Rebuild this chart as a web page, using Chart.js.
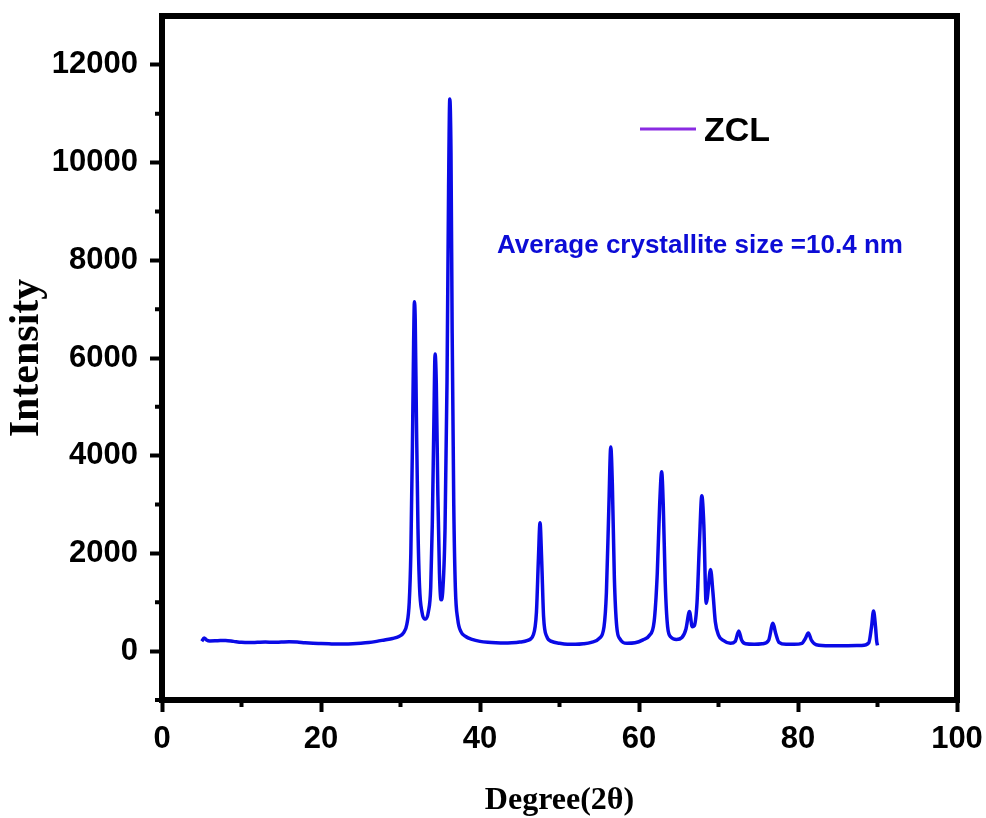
<!DOCTYPE html>
<html>
<head>
<meta charset="utf-8">
<script src="https://cdn.jsdelivr.net/npm/chart.js@4"></script>
<style>
  html, body { margin: 0; padding: 0; background: #fff; }
  #wrap { width: 986px; height: 818px; }
</style>
</head>
<body>
<div id="wrap"><canvas id="xrdChart"></canvas></div>
<script>
// XRD pattern of ZCL
const degrees = [
  5.0, 5.3, 5.6, 6, 7, 8, 9, 10, 11, 12, 13, 14, 15, 16, 17, 18, 19, 20, 21, 22, 23, 24, 25, 26, 27, 28, 29,
  29.8, 30.4, 30.8, 31.1, 31.3, 31.5, 31.65, 31.75, 31.85, 32.0, 32.2, 32.4, 32.7, 33.0, 33.2, 33.5, 33.8,
  34.0, 34.2, 34.35, 34.5, 34.7, 34.9, 35.1, 35.3, 35.6, 35.85, 36.05, 36.2, 36.35, 36.5, 36.7, 36.9,
  37.2, 37.6, 38.2, 39, 40, 41, 42, 43, 44, 45, 46, 46.7, 47.1, 47.35, 47.55, 47.75, 48.0, 48.4, 49,
  50, 51, 52, 53, 54, 55, 55.6, 55.9, 56.2, 56.45, 56.65, 56.9, 57.2, 57.6, 58.5, 59.5, 60.5, 61.3,
  61.9, 62.3, 62.6, 62.85, 63.05, 63.3, 63.6, 64, 64.7, 65.4, 65.9, 66.35, 66.7, 66.95, 67.3, 67.6,
  67.9, 68.15, 68.45, 68.6, 69.0, 69.3, 69.6, 70.0, 70.6, 71.5, 72.1, 72.55, 72.9, 73.4, 74.5, 75.5,
  76.3, 76.85, 77.2, 77.6, 78.5, 79.5, 80.5, 80.9, 81.3, 81.7, 82.3, 84, 86, 88, 88.9, 89.25, 89.5,
  89.75, 89.9, 90.0
];
const intensity = [
  200, 270, 230, 210, 215, 220, 200, 180, 175, 180, 185, 180, 185, 190, 185, 170, 160, 155, 150, 145, 145, 150, 160, 175, 200, 230, 260,
  300, 380, 550, 1000, 2000, 4200, 6300, 7150, 6800, 4800, 2500, 1300, 800, 660, 660, 800, 1300,
  2600, 4700, 6080, 5500, 3200, 1600, 1050, 1200, 2500, 5500, 9500, 11300, 10200, 6500, 3000, 1300,
  650, 400, 300, 240, 200, 180, 170, 165, 170, 185, 220, 330, 800, 1900, 2630, 1900, 700, 300, 200,
  160, 140, 140, 150, 180, 260, 500, 1200, 2900, 4180, 3400, 1500, 500, 250, 160, 170, 230, 320,
  600, 1600, 3000, 3670, 3000, 1400, 500, 290, 240, 280, 450, 810, 500, 520, 1000, 2200,
  3180, 2600, 980, 1100, 1670, 1200, 600, 330, 220, 160, 200, 410, 230, 150, 140, 150,
  220, 570, 360, 180, 140, 140, 160, 250, 370, 220, 130, 110, 110, 115, 170, 500, 820,
  500, 200, 120
];

const yMajor = [0, 2000, 4000, 6000, 8000, 10000, 12000];
const yMinor = [-1000, 1000, 3000, 5000, 7000, 9000, 11000];
const xMinor = [10, 30, 50, 70, 90];
const note = 'Average crystallite size =10.4 nm';

// frame, minor ticks, legend and note
const extras = {
  id: 'extras',
  afterDraw(chart) {
    const ctx = chart.ctx;
    const a = chart.chartArea;
    const xs = chart.scales.x, ys = chart.scales.y;
    ctx.save();
    ctx.strokeStyle = '#000';
    ctx.lineWidth = 6;
    ctx.strokeRect(a.left, a.top, a.right - a.left, a.bottom - a.top);

    ctx.lineWidth = 4;
    ctx.beginPath();
    yMinor.forEach(v => {
      const y = ys.getPixelForValue(v);
      ctx.moveTo(a.left, y); ctx.lineTo(a.left - 7, y);
    });
    xMinor.forEach(v => {
      const x = xs.getPixelForValue(v);
      ctx.moveTo(x, a.bottom); ctx.lineTo(x, a.bottom + 7);
    });
    ctx.stroke();

    // legend
    ctx.strokeStyle = '#8a2be2';
    ctx.lineWidth = 3;
    ctx.beginPath();
    ctx.moveTo(640, 129); ctx.lineTo(696, 129);
    ctx.stroke();
    ctx.fillStyle = '#000';
    ctx.font = 'bold 34px "Liberation Sans", Arial, sans-serif';
    ctx.textBaseline = 'alphabetic';
    ctx.fillText(chart.data.datasets[0].label, 704, 141);

    ctx.fillStyle = '#0c0cd6';
    ctx.font = 'bold 26px "Liberation Sans", Arial, sans-serif';
    ctx.fillText(note, 497, 253);
    ctx.restore();
  }
};

new Chart(document.getElementById('xrdChart'), {
  type: 'line',
  data: {
    datasets: [{
      label: 'ZCL',
      data: degrees.map((d, i) => ({ x: d, y: intensity[i] })),
      borderColor: '#0a0ae6',
      borderWidth: 3.5,
      pointRadius: 0,
      cubicInterpolationMode: 'monotone',
      fill: false
    }]
  },
  plugins: [extras],
  options: {
    responsive: true,
    maintainAspectRatio: false,
    animation: false,
    layout: { padding: { top: 16, right: 29, left: 0, bottom: 0 } },
    plugins: { legend: { display: false }, tooltip: { enabled: false } },
    scales: {
      x: {
        type: 'linear',
        min: 0, max: 100,
        ticks: {
          stepSize: 20, color: '#000', padding: 9,
          callback: v => String(v),
          font: { family: '"Liberation Sans", Arial, sans-serif', size: 31, weight: 'bold' }
        },
        grid: { drawOnChartArea: false, drawTicks: true, tickLength: 12, tickWidth: 4, tickColor: '#000' },
        border: { display: false },
        title: {
          display: true, text: 'Degree(2θ)', color: '#000', padding: { top: 0, bottom: -2 },
          font: { family: '"Liberation Serif", "Times New Roman", serif', size: 32, weight: 'bold' }
        },
        afterFit(scale) {
          scale.height = 118;
          scale.paddingLeft = 0; scale.paddingRight = 0;
        }
      },
      y: {
        min: -1000, max: 13000,
        afterBuildTicks(scale) { scale.ticks = yMajor.map(v => ({ value: v })); },
        ticks: {
          color: '#000', padding: 12,
          callback: v => String(v),
          font: { family: '"Liberation Sans", Arial, sans-serif', size: 31, weight: 'bold' }
        },
        grid: { drawOnChartArea: false, drawTicks: true, tickLength: 12, tickWidth: 4, tickColor: '#000' },
        border: { display: false },
        title: {
          display: true, text: 'Intensity', color: '#000', padding: 2,
          font: { family: '"Liberation Serif", "Times New Roman", serif', size: 42, weight: 'bold' }
        },
        afterFit(scale) {
          scale.width = 162;
          scale.paddingTop = 0; scale.paddingBottom = 0;
        }
      }
    }
  }
});
</script>
</body>
</html>
